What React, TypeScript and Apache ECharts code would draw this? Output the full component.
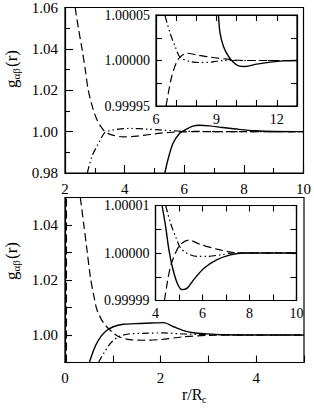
import React, { useEffect, useRef } from "react";
import * as echarts from "echarts";

// ---------- data ----------
// upper panel, main plot (r from 2 to 10)
const topMainSolid = [[5.35,0.98],[5.45,0.9863],[5.62,0.9943],[5.84,0.9991],[6.01,1.0007],[6.29,1.00265],[6.51,1.0031],[6.84,1.0028],[7.29,1.002],[7.84,1.0011],[8.4,1.0004],[9.0,1.00008],[10,1.0]];
const topMainDashed = [[2.34,1.06],[2.45,1.05],[2.57,1.04],[2.68,1.03],[2.78,1.02],[2.92,1.012],[3.05,1.0065],[3.2,1.0025],[3.35,0.9999],[3.6,0.9983],[3.95,0.9975],[4.4,0.9978],[4.85,0.9986],[5.2,0.9993],[5.6,0.9997],[6.2,0.99995],[7,1.0],[10,1.0]];
const topMainDashDot = [[2.75,0.98],[2.9,0.9879],[3.12,0.9943],[3.34,0.9996],[3.55,1.0006],[3.73,1.0011],[4.18,1.00154],[4.73,1.0012],[5.2,1.0008],[5.8,1.0003],[6.5,1.0001],[7.2,1.00002],[10,1.0]];
// upper panel, inset (r from 6 to 13)
const topInsetSolid = [[9.1,1.00005],[9.18,1.00003],[9.35,1.0000154],[9.6,1.0000044],[9.85,0.9999978],[10.1,0.9999941],[10.43,0.9999934],[11.0,0.999996],[11.67,0.9999982],[12.33,0.9999996],[13,1.0]];
const topInsetDashed = [[6.5,0.99995],[6.61,0.999964],[6.78,0.9999824],[7.0,0.9999971],[7.19,1.0000037],[7.53,1.000008],[8.02,1.0000062],[8.69,1.0000037],[9.52,1.0000015],[10.35,1.0],[13,1.0]];
const topInsetDashDot = [[6.45,1.0000491],[6.7,1.00003],[6.95,1.0000154],[7.19,1.0000037],[7.69,0.9999989],[8.19,0.9999978],[8.69,0.9999982],[9.35,1.0],[13,1.0]];
// lower panel, main plot (r/Rc from 0 to 5)
const botMainSolid = [[0.51,0.99],[0.6,0.99455],[0.7,0.99818],[0.84,1.0012],[1.01,1.003],[1.22,1.0039],[1.57,1.0042],[1.8,1.00435],[2.06,1.0045],[2.27,1.003],[2.48,1.0016],[2.68,1.0008],[2.96,1.0004],[3.31,1.0001],[4,1.0],[5,1.0]];
const botMainDashed = [[0.32,1.05],[0.39,1.0406],[0.46,1.0309],[0.53,1.0212],[0.6,1.0145],[0.67,1.0091],[0.81,1.0043],[0.98,1.0012],[1.15,0.9992],[1.36,0.9983],[1.64,0.9981],[2.0,0.99835],[2.48,0.99935],[2.96,0.99985],[3.5,1.0],[5,1.0]];
const botMainDashDot = [[0.7,0.99],[0.81,0.99333],[0.95,0.99697],[1.12,0.99939],[1.33,1.00036],[1.64,1.0006],[2.06,1.00075],[2.48,1.00036],[3.17,1.0001],[4,1.0],[5,1.0]];
const botMainEdge = [[0.03,0.99],[0.03,1.05]];
// lower panel, inset (r/Rc from 4 to 10)
const botInsetSolid = [[4.28,1.00001],[4.43,1.0000056],[4.57,1.0000007],[4.71,0.9999972],[4.92,0.9999937],[5.13,0.9999923],[5.35,0.9999926],[5.63,0.9999944],[6.06,0.9999968],[6.62,0.9999986],[7.19,0.9999996],[7.76,1.0],[10,1.0]];
const botInsetDashed = [[4.38,0.99999],[4.5,0.9999937],[4.64,0.9999972],[4.85,1.0],[5.06,1.0000018],[5.42,1.0000027],[5.91,1.0000018],[6.62,1.0000008],[7.33,1.0000001],[7.9,1.0],[10,1.0]];
const botInsetDashDot = [[4.43,1.00001],[4.64,1.0000063],[4.85,1.0000035],[5.06,1.0000011],[5.35,0.9999999],[5.77,0.9999993],[6.2,0.9999993],[6.77,0.9999996],[7.33,1.0],[10,1.0]];

const topMainXTicks = [2, 4, 6, 8, 10];
const topInsetXLabels = [6, 9, 12];
const botMainXLabels = [0, 2, 4];
const botInsetXLabels = [4, 6, 8, 10];

const FONT = "Liberation Serif";
const DASH = [8, 4];
const DASHDOT = [7, 3, 1.5, 3, 1.5, 3];

function line(data: number[][], kind: string, xi: number, yi: number) {
  return {
    type: "line",
    data,
    xAxisIndex: xi,
    yAxisIndex: yi,
    symbol: "none",
    showSymbol: false,
    smooth: 0.3,
    clip: true,
    silent: true,
    z: 3,
    lineStyle: {
      color: "#000",
      width: kind === "solid" ? 1.4 : 1.2,
      type: kind === "solid" ? "solid" : kind === "dashed" ? DASH : DASHDOT,
    },
  };
}

function xAx(grid: number, min: number, max: number, interval: number, opts: any) {
  return {
    type: "value",
    gridIndex: grid,
    min,
    max,
    interval,
    position: opts.top ? "top" : "bottom",
    axisLine: { show: true, lineStyle: { color: "#000", width: 1.2 } },
    axisTick: { show: true, inside: true, length: opts.tickLen || 7, lineStyle: { color: "#000", width: 1.1 } },
    minorTick: opts.minor ? { show: true, splitNumber: opts.minor, length: 5, lineStyle: { color: "#000", width: 1.1 } } : { show: false },
    splitLine: { show: false },
    axisLabel: opts.labels
      ? {
          show: true,
          margin: opts.margin || 8,
          color: "#000",
          fontFamily: FONT,
          fontSize: opts.fontSize || 15,
          formatter: (v: number) => (opts.labels.some((l: number) => Math.abs(l - v) < 1e-6) ? String(Math.round(v)) : ""),
        }
      : { show: false },
  };
}

function yAx(grid: number, min: number, max: number, interval: number, opts: any) {
  return {
    type: "value",
    gridIndex: grid,
    min,
    max,
    interval,
    position: opts.right ? "right" : "left",
    axisLine: { show: true, lineStyle: { color: "#000", width: 1.2 } },
    axisTick: { show: true, inside: true, length: opts.tickLen || 7, lineStyle: { color: "#000", width: 1.1 } },
    minorTick: opts.minor ? { show: true, splitNumber: opts.minor, length: 5, lineStyle: { color: "#000", width: 1.1 } } : { show: false },
    splitLine: { show: false },
    axisLabel: opts.fmt
      ? { show: true, margin: opts.margin || 7, color: "#000", fontFamily: FONT, fontSize: opts.fontSize || 15, formatter: opts.fmt }
      : { show: false },
  };
}

function txt(text: string, x: number, y: number, size: number) {
  return {
    type: "text",
    x,
    y,
    style: { text, fontFamily: FONT, fontSize: size, fill: "#000", align: "left", verticalAlign: "middle" },
  };
}

function yTitle(x: number, y: number) {
  return {
    type: "group",
    x,
    y,
    rotation: Math.PI / 2,
    children: [txt("g", 0, 0, 17), txt("αβ", 8.5, 4.5, 11), txt("(r)", 21, 0, 17)],
  };
}

export default function App() {
  const ref = useRef<HTMLDivElement>(null);
  useEffect(() => {
    document.body.style.margin = "0";
    const chart = echarts.init(ref.current!, null, { renderer: "svg" });
    const fmtStep = (step: number) => (v: number) => {
      const k = Math.round((v - 1) / step);
      return k % 2 === 0 ? (1 + k * step).toFixed(5) : "";
    };
    const fmtMainBot = (v: number) => {
      const k = Math.round((v - 1) / 0.01);
      return k % 2 === 0 ? (1 + k * 0.01).toFixed(2) : "";
    };
    const option: any = {
      animation: false,
      backgroundColor: "#fff",
      textStyle: { fontFamily: FONT },
      grid: [
        { left: 65, top: 7, width: 239, height: 166, show: true, borderColor: "#000", borderWidth: 1.2, backgroundColor: "transparent" },
        { left: 156, top: 15, width: 141, height: 91, show: true, borderColor: "#000", borderWidth: 1.2, backgroundColor: "#fff" },
        { left: 65, top: 197.5, width: 239, height: 165, show: true, borderColor: "#000", borderWidth: 1.2, backgroundColor: "transparent" },
        { left: 155.5, top: 205.5, width: 141, height: 95, show: true, borderColor: "#000", borderWidth: 1.2, backgroundColor: "#fff" },
      ],
      xAxis: [
        xAx(0, 2, 10, 2, { labels: topMainXTicks, minor: 2, tickLen: 8 }),
        xAx(1, 6, 13, 1, { labels: topInsetXLabels, tickLen: 6, fontSize: 14, margin: 6 }),
        xAx(1, 6, 13, 1, { top: true, tickLen: 6 }),
        xAx(2, 0, 5, 1, { labels: botMainXLabels, tickLen: 7 }),
        xAx(3, 4, 10, 1, { labels: botInsetXLabels, tickLen: 6, fontSize: 14, margin: 6 }),
        xAx(3, 4, 10, 1, { top: true, tickLen: 6 }),
      ],
      yAxis: [
        yAx(0, 0.98, 1.06, 0.02, { minor: 2, tickLen: 8, fmt: (v: number) => v.toFixed(2) }),
        yAx(1, 0.99995, 1.00005, 0.000025, { tickLen: 6, fontSize: 14, margin: 6, fmt: fmtStep(0.000025) }),
        yAx(1, 0.99995, 1.00005, 0.000025, { right: true, tickLen: 6 }),
        yAx(2, 0.99, 1.05, 0.01, { tickLen: 7, fmt: fmtMainBot }),
        yAx(3, 0.99999, 1.00001, 0.000005, { tickLen: 6, fontSize: 14, margin: 6, fmt: fmtStep(0.000005) }),
        yAx(3, 0.99999, 1.00001, 0.000005, { right: true, tickLen: 6 }),
      ],
      series: [
        line(topMainSolid, "solid", 0, 0),
        line(topMainDashed, "dashed", 0, 0),
        line(topMainDashDot, "dashdot", 0, 0),
        line(topInsetSolid, "solid", 1, 1),
        line(topInsetDashed, "dashed", 1, 1),
        line(topInsetDashDot, "dashdot", 1, 1),
        line(botMainSolid, "solid", 3, 3),
        line(botMainDashed, "dashed", 3, 3),
        line(botMainDashDot, "dashdot", 3, 3),
        { ...line(botMainEdge, "dashed", 3, 3), smooth: false },
        line(botInsetSolid, "solid", 4, 4),
        line(botInsetDashed, "dashed", 4, 4),
        line(botInsetDashDot, "dashdot", 4, 4),
      ],
      graphic: [
        yTitle(11, 88),
        yTitle(11, 280),
        {
          type: "group",
          x: 182,
          y: 394,
          children: [txt("r/R", 0, 0, 16), txt("c", 20, 5, 10)],
        },
      ],
    };
    chart.setOption(option);
    return () => chart.dispose();
  }, []);
  return <div ref={ref} style={{ width: 314, height: 410 }} />;
}
